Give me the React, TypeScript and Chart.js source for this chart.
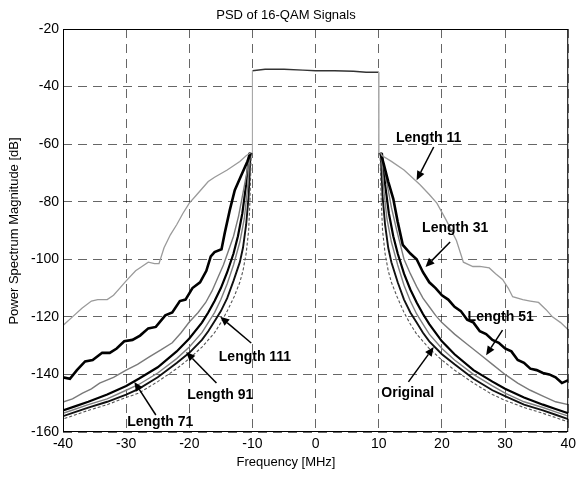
import React, { useEffect, useRef } from "react";
import { Chart, registerables } from "chart.js";

Chart.register(...registerables);

// ---- Data (frequency MHz, PSD dB) ----
const xTicks = [-40, -30, -20, -10, 0, 10, 20, 30, 40];
const yTicks = [-160, -140, -120, -100, -80, -60, -40, -20];

const passbandTop: [number, number][] = [
  [-10, -34.5], [-8, -34], [-5, -34], [-2, -34.3], [0, -34.5],
  [3, -34.5], [6, -34.7], [8, -35], [10, -35],
];
const passbandEdgeLeft: [number, number][] = [[-10, -34.5], [-10, -63]];
const passbandEdgeRight: [number, number][] = [[10, -35], [10, -63]];

const len11Left: [number, number][] = [
  [-10.3, -63], [-11, -64], [-12, -66], [-14, -69], [-16, -71.5], [-17, -73],
  [-18, -75.5], [-19, -78], [-20, -80.5], [-21, -84], [-22, -88], [-23, -91.5],
  [-24, -96], [-24.8, -101.5], [-25.5, -101.5], [-26.5, -101], [-27.5, -102.5],
  [-28.5, -104], [-30, -107.5], [-31, -110], [-32, -112.5], [-33, -114],
  [-34.5, -114], [-35.5, -114.5], [-37, -117], [-38.5, -120], [-40, -123],
];
const len11Right: [number, number][] = [
  [10.3, -63], [10.5, -64], [12, -66], [14, -69], [16.5, -74], [18, -77.5],
  [19.2, -80.5], [20.7, -86.5], [22.3, -93.5], [23.4, -101], [24.9, -102.5],
  [26, -102.5], [27.5, -103], [28.5, -105], [29.6, -107], [30.5, -110],
  [31.2, -113], [32.8, -114], [34, -114.5], [35.3, -115], [36.5, -117.5],
  [37.5, -120], [38.8, -122], [40, -124.5],
];

const len31Left: [number, number][] = [
  [-10.3, -63], [-10.8, -66], [-11.8, -71], [-12.8, -76], [-13.6, -83],
  [-14.4, -91], [-14.9, -96.5], [-16, -97.5], [-16.6, -99], [-17.3, -104],
  [-18.3, -108], [-19.5, -110], [-20.6, -114], [-21.5, -114.5], [-22.7, -118.5],
  [-23.8, -119.5], [-25.3, -123.5], [-26.5, -124], [-27.8, -126.5], [-29, -128],
  [-30.3, -128.5], [-31.5, -131], [-32.6, -132.5], [-33.8, -132.5], [-35.3, -135],
  [-36.5, -135.5], [-37.8, -138.5], [-38.9, -141.5], [-40, -141],
];
const len31Right: [number, number][] = [
  [10.3, -63], [10.8, -67], [11.5, -73], [12.3, -79], [13, -87], [13.8, -95],
  [15, -98], [16, -100], [17, -104.5], [18, -108], [19, -110], [20, -112.5],
  [21, -114], [22, -116.5], [23, -118], [24, -121], [25, -122], [26, -125],
  [27, -126], [28, -128], [29, -129], [30, -131], [31, -132], [32, -135],
  [33, -136], [34, -138], [35, -138.5], [36, -139.5], [37, -140], [38, -141],
  [39, -143], [40, -142],
];

const len51Left: [number, number][] = [
  [-10.4, -63], [-10.9, -70], [-11.5, -77], [-12.2, -85], [-13, -92],
  [-13.8, -97], [-14.6, -102], [-15.4, -106], [-16.4, -111], [-17.4, -115],
  [-18.6, -118.5], [-20, -121.8], [-21.3, -125.5], [-22.7, -129], [-24.5, -131.5],
  [-26.4, -134], [-28.2, -136.5], [-30, -138.5], [-32, -141], [-34.2, -143],
  [-35.5, -145], [-36.9, -146.5], [-38.5, -148.5], [-40, -149.6],
];
const len51Right: [number, number][] = [
  [10.4, -63], [11, -70], [11.5, -76], [12, -82], [12.8, -89.5], [14, -100],
  [15, -105], [16, -109.5], [17, -113.5], [18, -116.5], [19, -119.5], [20, -122],
  [22, -126], [24, -129.5], [26, -133], [28, -136.5], [30, -140], [32, -143],
  [34, -145.5], [36, -147.5], [38, -149.5], [40, -150.5],
];

const len71Left: [number, number][] = [
  [-10.5, -63], [-11, -74], [-11.6, -84], [-12.3, -92], [-13, -98], [-14, -104.5],
  [-15, -110], [-16, -114.5], [-17, -118.5], [-18, -122], [-20, -127.5],
  [-22, -132], [-25, -137.5], [-28, -141.5], [-30, -144], [-33, -147],
  [-36, -149.5], [-38, -151], [-40, -152.5],
];
const len71Right: [number, number][] = [
  [10.5, -63], [11, -74], [11.6, -84], [12.3, -92], [13, -98], [14, -105],
  [15, -110.5], [16, -115], [17, -119], [18, -122.5], [20, -128.5], [22, -133],
  [25, -138.5], [28, -142.5], [30, -145], [33, -148], [36, -150.5], [38, -152],
  [40, -153.5],
];

const len91Left: [number, number][] = [
  [-10.4, -63], [-10.8, -76], [-11.3, -86], [-12, -94], [-13, -102], [-14, -108.5],
  [-15, -114], [-16, -118.5], [-17, -122], [-18, -125.5], [-20, -130.5],
  [-22, -134.5], [-25, -139.5], [-28, -143.5], [-30, -145.5], [-33, -148.5],
  [-36, -150.5], [-38, -152], [-40, -153.5],
];
const len91Right: [number, number][] = [
  [10.4, -63], [10.8, -76], [11.3, -86], [12, -94], [13, -102], [14, -109],
  [15, -114.5], [16, -119], [17, -122.5], [18, -126], [20, -131], [22, -135],
  [25, -140], [28, -144], [30, -146.5], [33, -149.5], [36, -151.5], [38, -153],
  [40, -154.5],
];

const len111Left: [number, number][] = [
  [-10.3, -63], [-10.6, -78], [-11, -88], [-11.5, -96], [-12, -101], [-13, -107.5],
  [-14, -113.5], [-15, -118], [-16, -121.5], [-17, -125], [-18, -128],
  [-20, -132.5], [-22, -136], [-25, -141], [-28, -145], [-30, -147],
  [-33, -149.5], [-36, -151.5], [-38, -153], [-40, -154.5],
];
const len111Right: [number, number][] = [
  [10.3, -63], [10.6, -78], [11, -88], [11.5, -96], [12, -101], [13, -108],
  [14, -114], [15, -118.5], [16, -122], [17, -125.5], [18, -128.5], [20, -133],
  [22, -136.5], [25, -141.5], [28, -145.5], [30, -147.5], [33, -150.5],
  [36, -152.5], [38, -154], [40, -155.5],
];

const originalLeft: [number, number][] = [
  [-10.2, -63], [-10.4, -80], [-10.6, -90], [-11, -98], [-11.5, -104], [-12, -108],
  [-12.9, -113], [-14, -118], [-15, -122], [-16, -125.5], [-17, -128],
  [-18, -130.5], [-20, -134.5], [-22, -138], [-25, -142.5], [-28, -146.5],
  [-30, -148], [-33, -150.5], [-36, -152.5], [-38, -154], [-40, -155.5],
];
const originalRight: [number, number][] = [
  [10.2, -63], [10.4, -80], [10.6, -90], [11, -98], [11.5, -104], [12, -108],
  [12.9, -113], [14, -118.5], [15, -122.5], [16, -126], [17, -128.5], [18, -131],
  [20, -135], [22, -138.5], [25, -143], [28, -147], [30, -149], [33, -151.5],
  [36, -153.5], [38, -155], [40, -156.5],
];

// Annotations: label text, label centre (x, y), arrow tail, arrow head (data units)
const annLabels = ["Length 11", "Length 31", "Length 51", "Original", "Length 111", "Length 91", "Length 71"];
const annText: [number, number][] = [
  [17.9, -57.9], [22.1, -89.1], [29.3, -120], [14.6, -146.5], [-9.6, -134], [-15.1, -147.1], [-24.6, -156.5],
];
const annTail: [number, number][] = [
  [18.7, -61], [21.3, -94], [29.6, -124.6], [14.7, -142.6], [-10.2, -129.1], [-15.7, -143], [-25.3, -154.1],
];
const annHead: [number, number][] = [
  [16.0, -72.5], [17.4, -102.7], [27.0, -133.3], [18.7, -130.5], [-15.1, -120], [-20.5, -132.2], [-28.7, -142.6],
];

const FONT = '"Liberation Sans", Arial, Helvetica, sans-serif';

const toPts = (arr: [number, number][]) => arr.map(([x, y]) => ({ x, y }));

type Style = { color: string; width: number; dash?: number[] };
const sStyles: Record<string, Style> = {
  passband: { color: "#333", width: 1.4 },
  edge: { color: "#aaa", width: 1 },
  len11: { color: "#9a9a9a", width: 1.3 },
  len31: { color: "#000", width: 2.6 },
  len51: { color: "#7a7a7a", width: 1.4 },
  len71: { color: "#000", width: 2.2 },
  len91: { color: "#808080", width: 1.4 },
  len111: { color: "#111", width: 1.9 },
  original: { color: "#555", width: 1.1, dash: [3, 2] },
};

const mk = (label: string, data: [number, number][], key: string) => ({
  label,
  data: toPts(data),
  borderColor: sStyles[key].color,
  borderWidth: sStyles[key].width,
  borderDash: sStyles[key].dash || [],
  pointRadius: 0,
  fill: false,
  tension: 0,
});

const overlay = {
  id: "overlay",
  afterDatasetsDraw(chart: any) {
    const { ctx, chartArea: a, scales } = chart;
    const xs = scales.x, ys = scales.y;
    ctx.save();
    // plot box
    ctx.strokeStyle = "#000";
    ctx.lineWidth = 1;
    ctx.setLineDash([]);
    ctx.strokeRect(a.left + 0.5, a.top + 0.5, a.right - a.left - 1, a.bottom - a.top - 1);

    // title and axis titles
    ctx.fillStyle = "#000";
    ctx.textAlign = "center";
    ctx.textBaseline = "middle";
    ctx.font = `13px ${FONT}`;
    ctx.fillText("PSD of 16-QAM Signals", 286, 15);
    ctx.fillText("Frequency [MHz]", 286, 462);
    ctx.save();
    ctx.translate(14, 231);
    ctx.rotate(-Math.PI / 2);
    ctx.fillText("Power Spectrum Magnitude [dB]", 0, 0);
    ctx.restore();

    // annotations
    ctx.font = `bold 14px ${FONT}`;
    annLabels.forEach((lab, i) => {
      const tx = xs.getPixelForValue(annText[i][0]);
      const ty = ys.getPixelForValue(annText[i][1]);
      ctx.fillStyle = "#000";
      ctx.fillText(lab, tx, ty);
      const x0 = xs.getPixelForValue(annTail[i][0]);
      const y0 = ys.getPixelForValue(annTail[i][1]);
      const x1 = xs.getPixelForValue(annHead[i][0]);
      const y1 = ys.getPixelForValue(annHead[i][1]);
      const ang = Math.atan2(y1 - y0, x1 - x0);
      const hl = 9, hw = 4;
      const bx = x1 - hl * Math.cos(ang), by = y1 - hl * Math.sin(ang);
      ctx.strokeStyle = "#000";
      ctx.lineWidth = 1.5;
      ctx.beginPath();
      ctx.moveTo(x0, y0);
      ctx.lineTo(bx, by);
      ctx.stroke();
      ctx.beginPath();
      ctx.moveTo(x1, y1);
      ctx.lineTo(bx + hw * Math.sin(ang), by - hw * Math.cos(ang));
      ctx.lineTo(bx - hw * Math.sin(ang), by + hw * Math.cos(ang));
      ctx.closePath();
      ctx.fill();
    });
    ctx.restore();
  },
};

export default function App() {
  const ref = useRef<HTMLCanvasElement | null>(null);
  useEffect(() => {
    if (!ref.current) return;
    const chart = new Chart(ref.current, {
      type: "line",
      data: {
        datasets: [
          mk("passband edge L", passbandEdgeLeft, "edge"),
          mk("passband edge R", passbandEdgeRight, "edge"),
          mk("passband", passbandTop, "passband"),
          mk("Length 11", len11Left, "len11"),
          mk("Length 11 R", len11Right, "len11"),
          mk("Length 31", len31Left, "len31"),
          mk("Length 31 R", len31Right, "len31"),
          mk("Length 51", len51Left, "len51"),
          mk("Length 51 R", len51Right, "len51"),
          mk("Length 91", len91Left, "len91"),
          mk("Length 91 R", len91Right, "len91"),
          mk("Original", originalLeft, "original"),
          mk("Original R", originalRight, "original"),
          mk("Length 111", len111Left, "len111"),
          mk("Length 111 R", len111Right, "len111"),
          mk("Length 71", len71Left, "len71"),
          mk("Length 71 R", len71Right, "len71"),
        ],
      },
      options: {
        animation: false,
        responsive: false,
        maintainAspectRatio: false,
        layout: { padding: { top: 29, right: 7, bottom: 0, left: 0 }, autoPadding: false },
        plugins: { legend: { display: false }, tooltip: { enabled: false }, title: { display: false } },
        scales: {
          x: {
            type: "linear",
            min: -40,
            max: 40,
            afterFit: (s: any) => { s.height = 45; },
            afterBuildTicks: (s: any) => { s.ticks = xTicks.map((v) => ({ value: v })); },
            ticks: { color: "#000", font: { family: FONT, size: 14 }, padding: 4, maxRotation: 0 },
            grid: { color: "rgba(0,0,0,0.6)", lineWidth: 1, drawTicks: false },
            border: { display: false, dash: [9, 6] },
          },
          y: {
            type: "linear",
            min: -160,
            max: -20,
            afterFit: (s: any) => { s.width = 63; },
            afterBuildTicks: (s: any) => { s.ticks = yTicks.map((v) => ({ value: v })); },
            ticks: { color: "#000", font: { family: FONT, size: 14 }, padding: 4 },
            grid: { color: "rgba(0,0,0,0.6)", lineWidth: 1, drawTicks: false },
            border: { display: false, dash: [9, 6] },
          },
        },
      },
      plugins: [overlay],
    } as any);
    return () => chart.destroy();
  }, []);
  return (
    <div style={{ position: "absolute", left: 0, top: 0, width: 580, height: 477, background: "#fff" }}>
      <canvas ref={ref} width={580} height={477} style={{ width: 580, height: 477, display: "block" }} />
    </div>
  );
}
